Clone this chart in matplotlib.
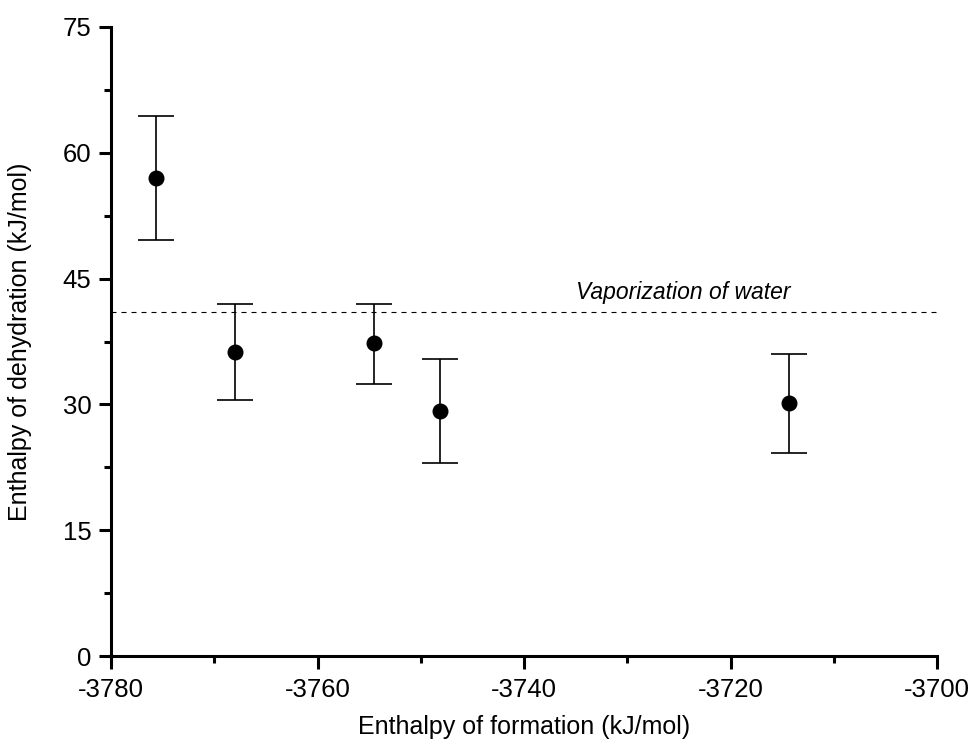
import matplotlib
matplotlib.use("Agg")
import matplotlib.pyplot as plt
from matplotlib.ticker import MultipleLocator

plt.rcParams['font.family'] = ['Liberation Sans', 'DejaVu Sans']
plt.rcParams['axes.unicode_minus'] = False

x_formation = [-3775.6, -3768.0, -3754.5, -3748.1, -3714.3]
y_dehydration = [57.0, 36.3, 37.3, 29.2, 30.2]
err_upper = [64.4, 42.0, 42.0, 35.4, 36.0]
err_lower = [49.6, 30.5, 32.4, 23.0, 24.2]
vaporization = 41.0
x_ticks = [-3780, -3760, -3740, -3720, -3700]
y_ticks = [0, 15, 30, 45, 60, 75]

yerr = [[y - lo for y, lo in zip(y_dehydration, err_lower)],
        [hi - y for y, hi in zip(y_dehydration, err_upper)]]

fig = plt.figure(figsize=(9.69, 7.43), dpi=100)
ax = fig.add_axes([0.1146, 0.117, 0.8524, 0.8467])

ax.errorbar(x_formation, y_dehydration, yerr=yerr, fmt='o', color='black',
            markersize=10.5, ecolor='black', elinewidth=1.2, capsize=13, capthick=1.2)
ax.axhline(vaporization, color='black', linestyle=(0, (4.5, 4.5)), linewidth=0.8)
ax.text(-3735.0, vaporization + 1.0, 'Vaporization of water', style='italic',
        fontsize=16.5, ha='left', va='bottom')

ax.set_xlim(-3780, -3700)
ax.set_ylim(0, 75)
ax.set_xticks(x_ticks)
ax.set_yticks(y_ticks)
ax.xaxis.set_minor_locator(MultipleLocator(10))
ax.yaxis.set_minor_locator(MultipleLocator(7.5))
for s in ['top', 'right']:
    ax.spines[s].set_visible(False)
for s in ['left', 'bottom']:
    ax.spines[s].set_linewidth(2.2)
ax.tick_params(which='major', direction='out', length=9, width=2.2, labelsize=18.5, pad=5)
ax.tick_params(axis='x', which='major', pad=7)
ax.tick_params(which='minor', direction='out', length=5, width=2.2)
ax.set_xlabel('Enthalpy of formation (kJ/mol)', fontsize=18, labelpad=9)
ax.set_ylabel('Enthalpy of dehydration (kJ/mol)', fontsize=18, labelpad=22)

fig.savefig('out.png', dpi=100)
